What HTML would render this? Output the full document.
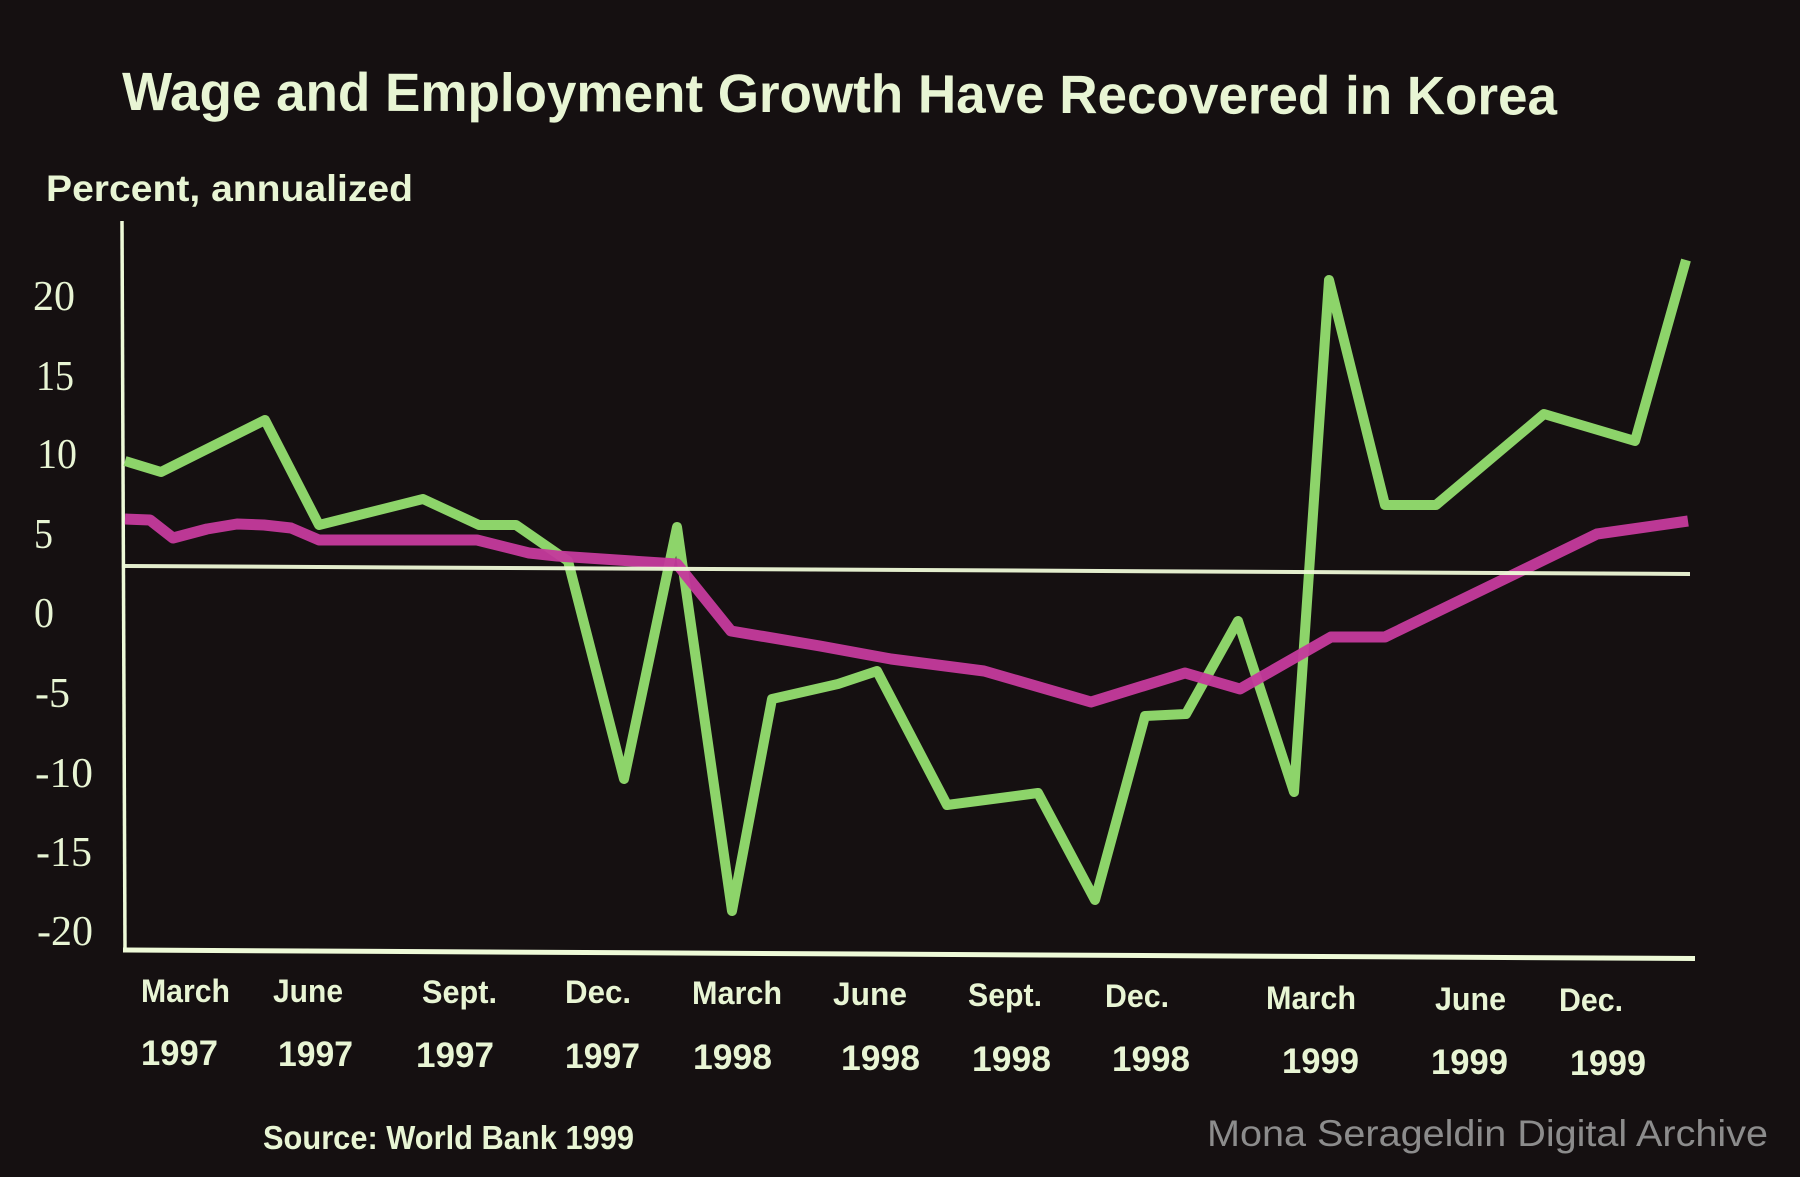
<!DOCTYPE html>
<html>
<head>
<meta charset="utf-8">
<style>
  html,body{margin:0;padding:0;background:#151011;}
  body{width:1800px;height:1177px;overflow:hidden;}
  svg{display:block;}
  .t{font-family:"Liberation Sans",Arial,sans-serif;font-weight:bold;fill:#e8f5d4;}
  .s{font-family:"Liberation Serif","Times New Roman",serif;fill:#e8f5d4;}
</style>
</head>
<body>
<svg width="1800" height="1177" viewBox="0 0 1800 1177" xmlns="http://www.w3.org/2000/svg">
  <rect x="0" y="0" width="1800" height="1177" fill="#151011"/>

  <!-- Title -->
  <text class="t" x="122" y="110" font-size="54" textLength="1435" lengthAdjust="spacingAndGlyphs" transform="rotate(0.18 122 110)">Wage and Employment Growth Have Recovered in Korea</text>

  <!-- Axis unit label -->
  <text class="t" x="46" y="201" font-size="37" textLength="367" lengthAdjust="spacingAndGlyphs">Percent, annualized</text>

  <!-- Y tick labels -->
  <g class="s" font-size="42">
    <text x="33" y="310" textLength="42" lengthAdjust="spacingAndGlyphs">20</text>
    <text x="36" y="390" textLength="38" lengthAdjust="spacingAndGlyphs">15</text>
    <text x="37" y="468" textLength="40" lengthAdjust="spacingAndGlyphs">10</text>
    <text x="34" y="548" textLength="19" lengthAdjust="spacingAndGlyphs">5</text>
    <text x="34" y="627" textLength="20" lengthAdjust="spacingAndGlyphs">0</text>
    <text x="35" y="707" textLength="35" lengthAdjust="spacingAndGlyphs">-5</text>
    <text x="35" y="787" textLength="58" lengthAdjust="spacingAndGlyphs">-10</text>
    <text x="36" y="866" textLength="56" lengthAdjust="spacingAndGlyphs">-15</text>
    <text x="37" y="945" textLength="56" lengthAdjust="spacingAndGlyphs">-20</text>
  </g>

  <!-- Axes -->
  <line x1="122" y1="221" x2="125" y2="951" stroke="#eefad8" stroke-width="3.5"/>
  <line x1="123" y1="950" x2="1695" y2="958.5" stroke="#eefad8" stroke-width="5"/>

  <!-- Green series -->
  <polyline fill="none" stroke="#8dd46a" stroke-width="10" stroke-linejoin="round" stroke-linecap="butt"
    points="125,461 161,472 265,420 319,525 423,499 479,525 516,525 568,561 624,779 677,527 732,911 772,699 838,684 877,671 947,805 1038,793 1095,900 1145,716 1186,714 1238,621 1294,792 1329,280 1385,505 1436,505 1544,414 1635,441 1686,260"/>

  <!-- Magenta series -->
  <polyline fill="none" stroke="#c43a9b" stroke-width="11" stroke-linejoin="round" stroke-linecap="butt" stroke-opacity="0.96"
    points="125,519 150,520 173,538 207,529 237,524 264,525 291,528 319,540 477,540 529,553 557,556 677,564 731,631 820,646 891,659 984,671 1091,702 1185,673 1240,689 1331,637 1385,637 1597,534 1688,521"/>

  <!-- Reference line -->
  <line x1="124" y1="566" x2="1690" y2="574" stroke="#eefad8" stroke-width="4" stroke-opacity="0.95"/>

  <!-- X month labels -->
  <g class="t" font-size="32">
    <text x="141" y="1002" textLength="89" lengthAdjust="spacingAndGlyphs">March</text>
    <text x="273" y="1002" textLength="70" lengthAdjust="spacingAndGlyphs">June</text>
    <text x="422" y="1003" textLength="75" lengthAdjust="spacingAndGlyphs">Sept.</text>
    <text x="565" y="1003" textLength="66" lengthAdjust="spacingAndGlyphs">Dec.</text>
    <text x="692" y="1004" textLength="90" lengthAdjust="spacingAndGlyphs">March</text>
    <text x="833" y="1005" textLength="74" lengthAdjust="spacingAndGlyphs">June</text>
    <text x="968" y="1006" textLength="74" lengthAdjust="spacingAndGlyphs">Sept.</text>
    <text x="1105" y="1007" textLength="64" lengthAdjust="spacingAndGlyphs">Dec.</text>
    <text x="1266" y="1009" textLength="90" lengthAdjust="spacingAndGlyphs">March</text>
    <text x="1435" y="1010" textLength="71" lengthAdjust="spacingAndGlyphs">June</text>
    <text x="1559" y="1011" textLength="64" lengthAdjust="spacingAndGlyphs">Dec.</text>
  </g>

  <!-- X year labels -->
  <g class="t" font-size="35">
    <text x="141" y="1065" textLength="77" lengthAdjust="spacingAndGlyphs">1997</text>
    <text x="278" y="1066" textLength="75" lengthAdjust="spacingAndGlyphs">1997</text>
    <text x="416" y="1067" textLength="78" lengthAdjust="spacingAndGlyphs">1997</text>
    <text x="565" y="1068" textLength="75" lengthAdjust="spacingAndGlyphs">1997</text>
    <text x="693" y="1069" textLength="79" lengthAdjust="spacingAndGlyphs">1998</text>
    <text x="841" y="1070" textLength="79" lengthAdjust="spacingAndGlyphs">1998</text>
    <text x="972" y="1071" textLength="79" lengthAdjust="spacingAndGlyphs">1998</text>
    <text x="1112" y="1071" textLength="78" lengthAdjust="spacingAndGlyphs">1998</text>
    <text x="1282" y="1073" textLength="77" lengthAdjust="spacingAndGlyphs">1999</text>
    <text x="1431" y="1074" textLength="77" lengthAdjust="spacingAndGlyphs">1999</text>
    <text x="1570" y="1075" textLength="76" lengthAdjust="spacingAndGlyphs">1999</text>
  </g>

  <!-- Source -->
  <text class="t" x="263" y="1149" font-size="33" textLength="371" lengthAdjust="spacingAndGlyphs">Source: World Bank 1999</text>

  <!-- Watermark -->
  <text x="1207" y="1146" font-family="'Liberation Sans',Arial,sans-serif" font-size="37" fill="#8c8c8c" textLength="561" lengthAdjust="spacingAndGlyphs">Mona Serageldin Digital Archive</text>
</svg>
</body>
</html>
